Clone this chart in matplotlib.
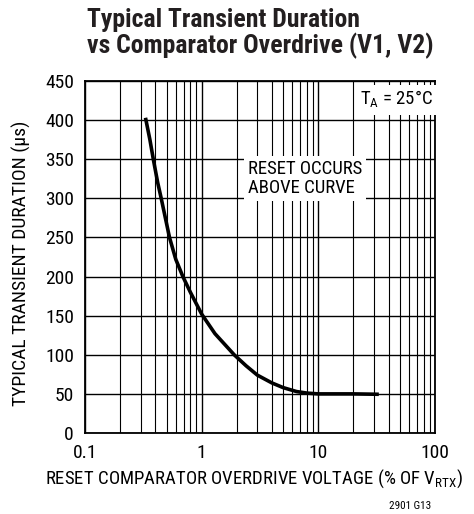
import matplotlib.pyplot as plt
import matplotlib.ticker as mticker
import numpy as np

# curve
overdrive = [0.33, 0.36, 0.385, 0.42, 0.45, 0.53, 0.6, 0.69, 0.8, 1.0, 1.3, 1.9, 2.4, 3.0, 4.0, 5.0, 6.5, 8.0, 10.0, 15.0, 20.0, 33.0]
duration = [403, 375, 350, 320, 300, 250, 222, 200, 180, 152, 127, 100, 86, 74, 64, 58, 53, 51, 50, 50, 50, 49.5]

x_ticks = [0.1, 1, 10, 100]
x_ticklabels = ["0.1", "1", "10", "100"]
y_ticks = [0, 50, 100, 150, 200, 250, 300, 350, 400, 450]

plt.rcParams["font.family"] = ["Roboto Condensed", "Archivo Narrow", "Fira Sans Condensed", "DejaVu Sans"]

fig = plt.figure(figsize=(4.74, 5.14), dpi=100)
ax = fig.add_axes([85 / 474, 1 - 433 / 514, 350 / 474, 352 / 514])

ax.plot(overdrive, duration, color="black", linewidth=2.6, solid_capstyle="butt", zorder=3)

ax.set_xscale("log")
ax.set_xlim(0.1, 100)
ax.set_ylim(0, 450)
ax.set_xticks(x_ticks)
ax.set_xticklabels(x_ticklabels)
ax.xaxis.set_minor_locator(mticker.LogLocator(base=10, subs=np.arange(2, 10)))
ax.xaxis.set_minor_formatter(mticker.NullFormatter())
ax.set_yticks(y_ticks)
ax.tick_params(which="both", length=0, labelsize=14)
ax.tick_params(axis="x", pad=8)
ax.tick_params(axis="y", pad=8)
ax.grid(True, which="major", color="black", linewidth=1.0)
ax.grid(True, which="minor", axis="x", color="black", linewidth=0.8)
for s in ax.spines.values():
    s.set_linewidth(1.3)

fig.text(45 / 474, 1 - 479 / 514, "RESET COMPARATOR OVERDRIVE VOLTAGE (% OF V$_{\\mathregular{RTX}}$)",
         fontsize=13.5, ha="left", va="center")
fig.text(21 / 474, 1 - 263 / 514, "TYPICAL TRANSIENT DURATION (µs)", fontsize=14,
         rotation=90, ha="center", va="center")

ax.text(2.48, 325, "RESET OCCURS\nABOVE CURVE", fontsize=13.5, ha="left", va="center",
        linespacing=1.05, bbox=dict(facecolor="white", edgecolor="none", pad=3), zorder=4)
ax.text(96, 426, "T$_{\\mathregular{A}}$ = 25°C", fontsize=13.5, ha="right", va="center",
        bbox=dict(facecolor="white", edgecolor="none", pad=3), zorder=4)

fig.text(87 / 474, 1 - 8 / 514, "Typical Transient Duration\nvs Comparator Overdrive (V1, V2)",
         fontsize=18.5, fontweight="bold", ha="left", va="top", linespacing=1.05, color="#231f20")
fig.text(410 / 474, 1 - 506 / 514, "2901 G13", fontsize=8, ha="center", va="center")

fig.savefig("out.png", dpi=100)
